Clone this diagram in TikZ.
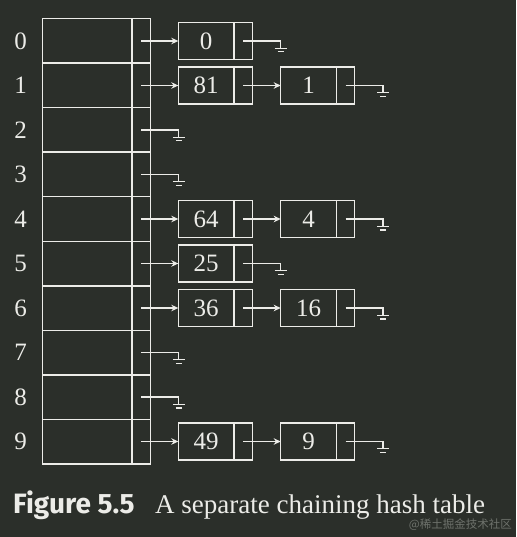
\documentclass[tikz,border=0pt]{standalone}
\usepackage{fontspec}
\setmainfont{Liberation Serif}
\newfontfamily\capsans{Fira Sans}
\newfontfamily\cjk{Noto Sans CJK SC}
\usetikzlibrary{arrows.meta}
\definecolor{bg}{RGB}{43,47,42}
\definecolor{fg}{RGB}{236,236,232}
\definecolor{wm}{RGB}{110,114,108}
\tikzset{
  x=1pt, y=-1pt,
  tcell/.style={draw=fg, line width=1.5pt, minimum height=44.5pt, inner sep=0pt, outer sep=0pt},
  dcell/.style={draw=fg, line width=1.3pt, minimum height=37pt, minimum width=55.7pt, inner sep=0pt, outer sep=0pt, text=fg, font=\fontsize{25}{25}\selectfont},
  pcell/.style={draw=fg, line width=1.3pt, minimum height=37pt, minimum width=18.3pt, inner sep=0pt, outer sep=0pt},
  idx/.style={text=fg, font=\fontsize{25}{25}\selectfont, inner sep=0pt},
  wire/.style={draw=fg, line width=1.2pt},
  arr/.style={wire, -{Stealth[length=7pt,width=6.5pt]}},
}
\newcommand\grnd[1]{\draw[wire] (#1.center) -- ++(37.5,0) -- ++(0,7.3) ++(-6,0) -- ++(12,0) ++(-9,3.6) -- ++(6,0);}
\begin{document}
\begin{tikzpicture}
\fill[bg] (0,0) rectangle (516,537);
\useasboundingbox (0,0) rectangle (516,537);
% hash table
\foreach \i in {0,...,9}{
  \pgfmathsetmacro\yy{41+44.5*\i}
  \node[tcell, minimum width=89.3pt] (t\i) at (87.35,\yy) {};
  \node[tcell, minimum width=18.7pt] (p\i) at (141.35,\yy) {};
  \node[idx] (l\i) at (20.5,\yy) {\i};
}
% first column of list nodes
\foreach \i/\v in {0/0,1/81,4/64,5/25,6/36,9/49}{
  \pgfmathsetmacro\yy{41+44.5*\i}
  \node[dcell] (a\i) at (206.15,\yy) {\v};
  \node[pcell] (ap\i) at (243.15,\yy) {};
  \draw[arr] (p\i.center) -- (a\i.west);
}
% second column
\foreach \i/\v in {1/1,4/4,6/16,9/9}{
  \pgfmathsetmacro\yy{41+44.5*\i}
  \node[dcell] (b\i) at (308.55,\yy) {\v};
  \node[pcell] (bp\i) at (345.55,\yy) {};
  \draw[arr] (ap\i.center) -- (b\i.west);
  \grnd{bp\i}
}
% grounds
\foreach \i in {2,3,7,8}{\grnd{p\i}}
\foreach \i in {0,5}{\grnd{ap\i}}
% caption
\node[anchor=base west, inner sep=0pt, text=fg, font=\capsans\bfseries\fontsize{28}{28}\selectfont] (fig) at (13,513.3) {Figure 5.5};
\node[anchor=base west, inner sep=0pt, text=fg, font=\fontsize{27}{27}\selectfont] (cap) at (155,513.3) {A separate chaining hash table};
\node[anchor=east, inner sep=0pt, text=wm, font=\cjk\fontsize{11.5}{12}\selectfont] (wmk) at (512,525) {@稀土掘金技术社区};
\end{tikzpicture}
\end{document}
